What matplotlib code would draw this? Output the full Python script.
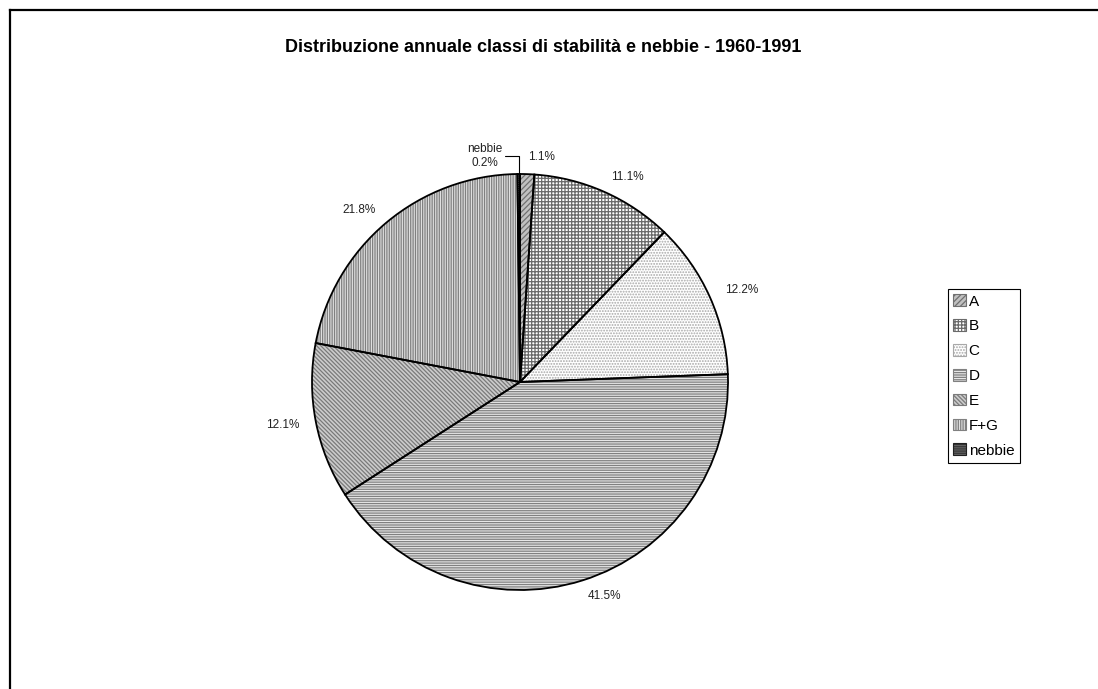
import matplotlib
matplotlib.use("Agg")
import matplotlib.pyplot as plt
from matplotlib.lines import Line2D
import numpy as np

plt.rcParams["font.family"] = ["Liberation Sans", "DejaVu Sans"]
plt.rcParams["hatch.linewidth"] = 0.9

# ── Data ─────────────────────────────────────────────────────────────────────
classes = ["A", "B", "C", "D", "E", "F+G", "nebbie"]
shares = [1.1, 11.1, 12.2, 41.5, 12.1, 21.8, 0.2]
pct_labels = ["1.1%", "11.1%", "12.2%", "41.5%", "12.1%", "21.8%", "0.2%"]

# fill / hatch look of each class (Excel-style patterns)
face_colors = ["#c0c0c0", "white", "white", "#e8e8e8", "#cccccc", "#e0e0e0", "#909090"]
hatch_colors = ["#707070", "#6a6a6a", "#a8a8a8", "#808080", "#7a7a7a", "#808080", "#202020"]
hatches = ["//////", "+++++", "......", "-------", "\\\\\\\\\\\\\\\\", "|||||||", "--------"]

fig = plt.figure(figsize=(10.98, 6.89), dpi=100)

# border on top and left, like the cropped Excel chart area
fig.add_artist(Line2D([10 / 1098, 10 / 1098], [0, 1 - 10 / 689], color="black", lw=1.6))
fig.add_artist(Line2D([10 / 1098, 1], [1 - 10 / 689, 1 - 10 / 689], color="black", lw=1.6))

fig.text(543 / 1098, 1 - 48 / 689, "Distribuzione annuale classi di stabilità e nebbie - 1960-1991",
         ha="center", va="center", fontsize=13, fontweight="bold")

# pie axes: radius 208 px, centre at (520, 382)
ax = fig.add_axes([(520 - 260) / 1098, (689 - 382 - 260) / 689, 520 / 1098, 520 / 689])
ax.set_xlim(-1.25, 1.25)
ax.set_ylim(-1.25, 1.25)
ax.set_aspect("equal")
ax.axis("off")

# pass 1: hatched fills
shown = [l if c != "nebbie" else "" for l, c in zip(pct_labels, classes)]
wedges, texts = ax.pie(shares, startangle=90, counterclock=False, radius=1.0,
                       labels=shown, labeldistance=1.08,
                       textprops=dict(fontsize=8.5, color="#222222"),
                       wedgeprops=dict(linewidth=0))
for w, fc, hc, h in zip(wedges, face_colors, hatch_colors, hatches):
    w.set_facecolor(fc)
    w.set_edgecolor(hc)
    w.set_hatch(h)

# pass 2: black outlines
ax.pie(shares, startangle=90, counterclock=False, radius=1.0,
       wedgeprops=dict(fill=False, edgecolor="black", linewidth=1.3))

# leader-line label for the tiny "nebbie" slice
total = sum(shares)
mid = 90 - 360 * (np.cumsum(shares)[-1] - shares[-1] / 2) / total
xy = (np.cos(np.radians(mid)), np.sin(np.radians(mid)))
ax.annotate("nebbie\n0.2%", xy=xy, xytext=(-34, 18), textcoords="offset pixels",
            ha="center", va="center", multialignment="center", fontsize=8.5, color="#222222",
            arrowprops=dict(arrowstyle="-", color="black", lw=0.8, shrinkA=0, shrinkB=0,
                            connectionstyle="angle,angleA=0,angleB=90,rad=0"))

# legend
leg = fig.legend(wedges, classes, loc="upper left",
                 bbox_to_anchor=(948 / 1098, 1 - 289 / 689),
                 fontsize=11, frameon=True, fancybox=False, framealpha=1,
                 edgecolor="black", handlelength=0.8, handleheight=0.8,
                 handletextpad=0.2, labelspacing=0.7, borderpad=0.35,
                 borderaxespad=0)
leg.get_frame().set_linewidth(0.8)
for p in leg.get_patches():
    p.set_linewidth(0.8)

plt.savefig("out.png", dpi=100)
plt.close()
print("Saved: out.png")
